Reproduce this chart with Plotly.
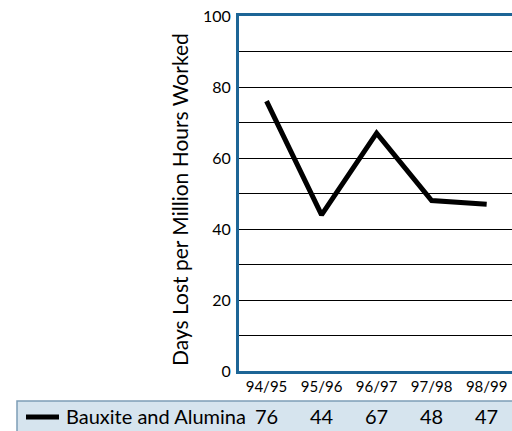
import plotly.graph_objects as go

categories = ["94/95", "95/96", "96/97", "97/98", "98/99"]
series_name = "Bauxite and Alumina"
values = [76, 44, 67, 48, 47]
y_ticks = [0, 20, 40, 60, 80, 100]

W, H = 512, 431
L, R, T, B = 239, 0, 16, 60
FONT = "Lato"
BLUE = "#1d6596"

def px_to_paper_x(px):
    return (px - L) / (W - L - R)

def px_to_paper_y(py):
    return (H - B - py) / (H - T - B)

fig = go.Figure()
fig.add_trace(go.Scatter(
    x=categories, y=values, mode="lines",
    line=dict(color="black", width=5),
    name=series_name, showlegend=False, hoverinfo="skip",
))

shapes = [
    dict(type="rect", xref="paper", yref="paper",
         x0=px_to_paper_x(17), x1=px_to_paper_x(520),
         y0=px_to_paper_y(401), y1=px_to_paper_y(440),
         fillcolor="#d6e4ee", line=dict(color="#7d9db6", width=1.5), layer="below"),
    dict(type="line", xref="paper", yref="paper",
         x0=px_to_paper_x(26), x1=px_to_paper_x(59),
         y0=px_to_paper_y(417), y1=px_to_paper_y(417),
         line=dict(color="black", width=5)),
]

annotations = [
    dict(text=series_name, xref="paper", yref="paper",
         x=px_to_paper_x(64), y=px_to_paper_y(416), xanchor="left", yanchor="middle",
         showarrow=False, font=dict(family=FONT, size=20, color="black")),
    dict(text="Days Lost per Million Hours Worked", xref="paper", yref="paper",
         x=px_to_paper_x(179), y=px_to_paper_y(200), xanchor="center", yanchor="middle",
         textangle=-90, showarrow=False, font=dict(family=FONT, size=21, color="black")),
]
for c, v in zip(categories, values):
    annotations.append(dict(text=str(v), xref="x", yref="paper", x=c, y=px_to_paper_y(416),
                            xanchor="center", yanchor="middle", showarrow=False,
                            font=dict(family=FONT, size=20, color="black")))

fig.update_layout(
    width=W, height=H,
    margin=dict(l=L, r=R, t=T, b=B, pad=0),
    paper_bgcolor="white", plot_bgcolor="white",
    showlegend=False,
    shapes=shapes, annotations=annotations,
    xaxis=dict(type="category", range=[-0.5, 4.46], showgrid=False, zeroline=False,
               showline=True, linecolor=BLUE, linewidth=3, mirror=True,
               ticks="", tickfont=dict(family=FONT, size=15, color="black"),
               fixedrange=True),
    yaxis=dict(range=[0, 100], tickvals=y_ticks, showgrid=True, gridcolor="black", gridwidth=1,
               minor=dict(dtick=10, showgrid=True, gridcolor="black", gridwidth=1),
               zeroline=False, showline=True, linecolor=BLUE, linewidth=3,
               ticks="", ticklabelstandoff=2,
               tickfont=dict(family=FONT, size=16, color="black"), fixedrange=True),
)

fig.write_html("out.html")
